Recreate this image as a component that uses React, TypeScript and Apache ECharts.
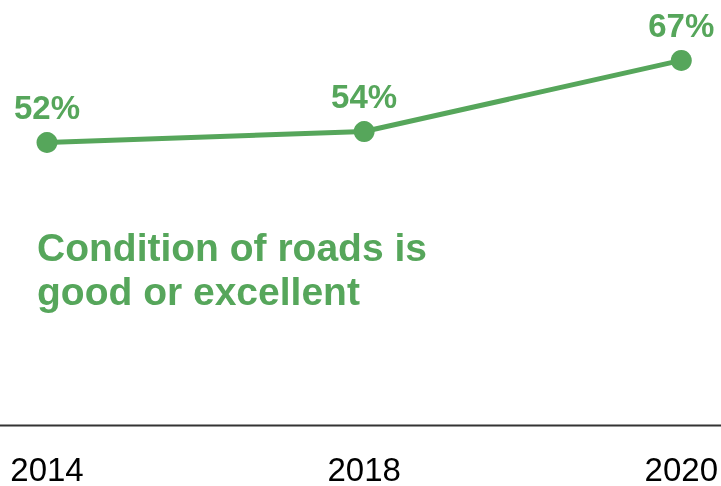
import React, { useEffect, useRef } from "react";
import * as echarts from "echarts";

const years = ["2014", "2018", "2020"];
const goodOrExcellent = [52, 54, 67];
const seriesLabel = ["Condition of roads is", "good or excellent"];

const GREEN = "#56a65b";
const FONT = "'Liberation Sans', Arial, sans-serif";

export default function App() {
  const ref = useRef<HTMLDivElement>(null);
  useEffect(() => {
    if (!ref.current) return;
    const chart = echarts.init(ref.current, null, { renderer: "svg" });
    chart.setOption({
      animation: false,
      grid: { left: 47, right: 36, top: 44, bottom: 59 },
      xAxis: {
        type: "category",
        data: years,
        boundaryGap: false,
        axisLine: { show: false },
        axisTick: { show: false },
        axisLabel: {
          color: "#000",
          fontSize: 33,
          lineHeight: 26,
          fontFamily: FONT,
          margin: 29,
          interval: 0,
        },
      },
      yAxis: {
        type: "value",
        min: 0,
        max: 70,
        show: false,
        splitLine: { show: false },
      },
      graphic: [
        {
          type: "line",
          shape: { x1: 0, y1: 425.5, x2: 721, y2: 425.5 },
          style: { stroke: "#333", lineWidth: 2 },
          silent: true,
        },
        {
          type: "text",
          left: 37,
          top: 225,
          style: {
            text: seriesLabel.join("\n"),
            fill: GREEN,
            font: `bold 39px ${FONT}`,
            lineHeight: 44,
          },
        },
      ],
      series: [
        {
          type: "line",
          data: goodOrExcellent,
          symbol: "circle",
          symbolSize: 21,
          lineStyle: { color: GREEN, width: 5 },
          itemStyle: { color: GREEN },
          label: {
            show: true,
            position: "top",
            distance: 8,
            formatter: "{c}%",
            color: GREEN,
            fontSize: 33,
            fontWeight: "bold",
            fontFamily: FONT,
          },
        },
      ],
    });
    return () => chart.dispose();
  }, []);
  return <div ref={ref} style={{ width: 721, height: 486, position: "fixed", left: 0, top: 0 }} />;
}
